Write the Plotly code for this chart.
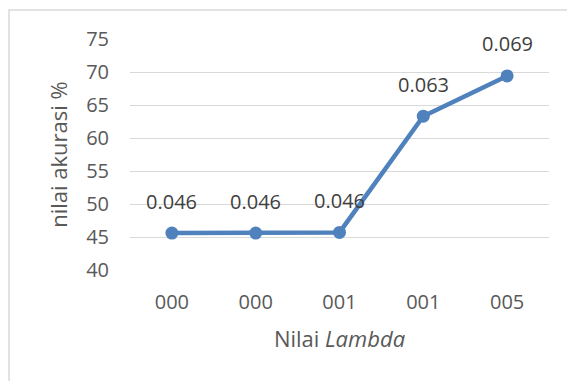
import plotly.graph_objects as go

categories = ["000", "000", "001", "001", "005"]
accuracy = [45.6, 45.6, 45.7, 63.3, 69.4]
labels = ["0.046", "0.046", "0.046", "0.063", "0.069"]
y_ticks = [40, 45, 50, 55, 60, 65, 70, 75]

positions = list(range(len(categories)))
FONT = "Open Sans"
TXT = "#595959"
BLUE = "#4F81BD"
FS = 20
TFS = 22

fig = go.Figure()
fig.add_trace(go.Scatter(
    x=positions, y=accuracy, mode="lines+markers",
    line=dict(color=BLUE, width=4.5),
    marker=dict(color=BLUE, size=13),
    showlegend=False, hoverinfo="skip",
))

annotations = []
for xi, yi, lab in zip(positions, accuracy, labels):
    annotations.append(dict(
        x=xi, y=yi, xref="x", yref="y", text=lab, showarrow=False,
        yshift=32, font=dict(family=FONT, size=FS, color="#404040"),
    ))

fig.update_layout(
    width=567, height=381,
    margin=dict(l=130, r=18, t=39, b=111),
    paper_bgcolor="white", plot_bgcolor="white",
    font=dict(family=FONT, size=FS, color=TXT),
    annotations=annotations,
    shapes=[dict(type="rect", xref="paper", yref="paper",
                 x0=(9 - 130) / 419, x1=1.2, y0=-0.6, y1=1 + (39 - 10) / 231,
                 line=dict(color="#D9D9D9", width=1.5), layer="below")],
)
fig.update_xaxes(
    range=[-0.5, 4.5], tickmode="array", tickvals=positions, ticktext=categories,
    showgrid=False, zeroline=False, showline=False, ticks="",
    ticklabelstandoff=18,
    tickfont=dict(family=FONT, size=FS, color=TXT),
    title=dict(text="Nilai <i>Lambda</i>", standoff=17,
               font=dict(family=FONT, size=TFS, color=TXT)),
)
fig.update_yaxes(
    range=[40, 75], tickmode="array", tickvals=y_ticks,
    showgrid=True, gridcolor="#D9D9D9", gridwidth=1.3,
    zeroline=False, showline=False, ticks="",
    ticklabelstandoff=20,
    tickfont=dict(family=FONT, size=FS, color=TXT),
    title=dict(text="nilai akurasi %", standoff=12,
               font=dict(family=FONT, size=TFS, color=TXT)),
)

fig.write_html("out.html", config={"displayModeBar": False},
               post_script="document.body.style.margin='0';document.body.style.overflow='hidden';")
